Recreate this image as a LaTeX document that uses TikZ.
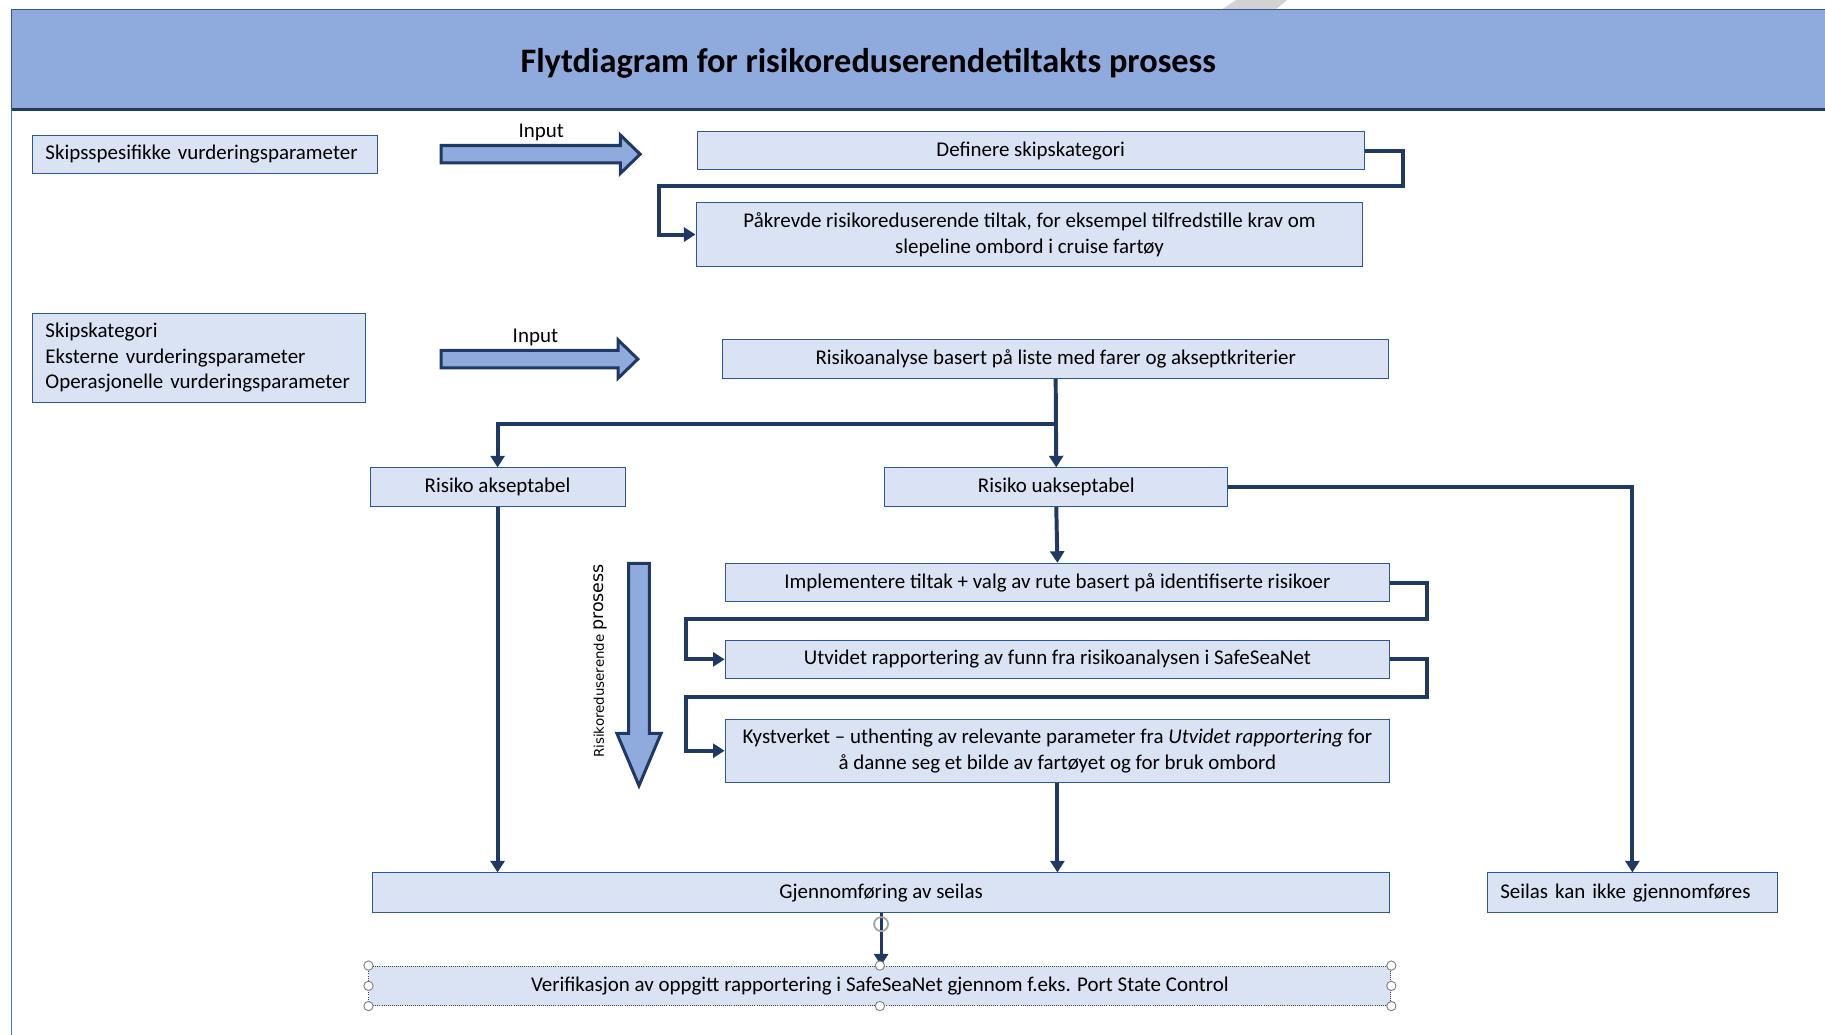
\documentclass[tikz,border=0pt]{standalone}
\usepackage{fontspec}
\setmainfont{Carlito}
\newfontfamily\verd{DejaVu Sans}
\usetikzlibrary{arrows.meta,calc}

\definecolor{boxfill}{HTML}{DAE3F3}
\definecolor{boxline}{HTML}{2F5597}
\definecolor{navy}{HTML}{203864}
\definecolor{headfill}{HTML}{8FAADC}
\definecolor{sideline}{HTML}{4472C4}

\tikzset{
  box/.style={draw=boxline,fill=boxfill,line width=.8pt,inner sep=0pt,
    minimum height=33pt,align=center,font=\fontsize{18}{22}\selectfont},
  lbox/.style={box,align=left},
  conn/.style={draw=navy,line width=3.4pt,-{Triangle[length=10pt,width=12pt]}},
  fat/.style={draw=navy,fill=headfill,line width=2.6pt,line join=miter},
  handle/.style={circle,draw=gray,fill=white,inner sep=0pt,minimum size=8pt,line width=.8pt}
}

\begin{document}
\begin{tikzpicture}[x=1pt,y=-1pt]
\useasboundingbox (0,0) rectangle (1568,889);

% heading band
\fill[gray!35] (1062,0) -- (1106,0) -- (1096,8) -- (1050,8) -- cycle;
\fill[headfill] (10,8) rectangle (1568,94);
\draw[boxline,line width=1.2pt] (1568,8) -- (10,8) -- (10,94);
\draw[navy,line width=3pt] (10,94) -- (1568,94);
\draw[sideline,line width=1.2pt] (10,94) -- (10,889);
\node[font=\fontsize{29.5}{34}\selectfont\bfseries] (title) at (746,54) {Flytdiagram for risikoreduserendetiltakts prosess};

% input side
\node[lbox,minimum width=296pt,text width=274pt] (spec) at (176,132.5) {Skipsspesifikke vurderingsparameter};
\node[lbox,minimum width=286pt,text width=264pt,minimum height=77pt] (param) at (171,307.5)
  {Skipskategori\\Eksterne vurderingsparameter\\Operasjonelle vurderingsparameter};

\draw[fat] (379,125) -- (533,125) -- (533,116) -- (550,132.5) -- (533,149) -- (533,140) -- (379,140) -- cycle;
\node[font=\fontsize{18}{20}\selectfont] (in1) at (465,114) {Input};
\draw[fat] (379,301) -- (531,301) -- (531,292) -- (548,308.5) -- (531,325) -- (531,316) -- (379,316) -- cycle;
\node[font=\fontsize{18}{20}\selectfont] (in2) at (460,290) {Input};

% category and analysis
\node[box,minimum width=573pt] (cat) at (885.5,129.5) {Definere skipskategori};
\node[box,minimum width=573pt,minimum height=55pt] (req) at (884.5,201.5)
  {Påkrevde risikoreduserende tiltak, for eksempel tilfredstille krav om\\slepeline ombord i cruise fartøy};
\node[box,minimum width=572pt] (anal) at (907,308.5) {Risikoanalyse basert på liste med farer og akseptkriterier};
\node[box,minimum width=219pt] (ok) at (427.5,418.5) {Risiko akseptabel};
\node[box,minimum width=295pt] (notok) at (907.5,418.5) {Risiko uakseptabel};

% mitigation steps
\node[box,minimum width=571pt] (impl) at (908.5,500.5) {Implementere tiltak + valg av rute basert på identifiserte risikoer};
\node[box,minimum width=571pt] (rep) at (908.5,566.5) {Utvidet rapportering av funn fra risikoanalysen i SafeSeaNet};
\node[box,minimum width=571pt,minimum height=54pt] (kyst) at (908.5,645)
  {Kystverket -- uthenting av relevante parameter fra \textit{Utvidet rapportering} for\\å danne seg et bilde av fartøyet og for bruk ombord};

\draw[fat] (540,484) -- (558,484) -- (558,630) -- (568,630) -- (549,675) -- (530,630) -- (540,630) -- cycle;
\node[rotate=90,font=\verd] (proc) at (516,568)
  {{\fontsize{11.5}{13}\selectfont Risikoreduserende} {\fontsize{15}{16}\selectfont prosess}};

% outcome
\node[box,minimum width=874pt,minimum height=34pt] (sail) at (757,767) {Gjennomføring av seilas};
\node[lbox,minimum width=249pt,text width=227pt,minimum height=34pt] (nosail) at (1402.5,767) {Seilas kan ikke gjennomføres};
\node[box,draw=darkgray,densely dotted,minimum width=878pt,minimum height=34pt] (verif) at (756,847)
  {Verifikasjon av oppgitt rapportering i SafeSeaNet gjennom f.eks. Port State Control};

% connectors
\draw[conn] (cat.east) -| ++(33,30) -| ([xshift=-31pt]req.west) -- (req.west);
\coordinate (split) at ($(anal.south)+(0,39)$);
\draw[conn] (anal.south) -- (notok.north);
\draw[conn] (split) -| (ok.north);
\draw[conn] (notok.east) -| (nosail.north);
\draw[conn] (ok.south) -- (ok.south |- sail.north);
\draw[conn] (notok.south) -- (impl.north);
\draw[conn] (impl.east) -| ++(32,31) -| ([xshift=-33pt]rep.west) -- (rep.west);
\draw[conn] (rep.east) -| ++(32,32.5) -| ([xshift=-33pt]kyst.west) -- (kyst.west);
\draw[conn] (kyst.south) -- (kyst.south |- sail.north);
\draw[conn,line width=2.5pt] (sail.south) -- (sail.south |- verif.north);

% selection handles
\foreach \a in {north west,north,north east,west,east,south west,south,south east}
  \node[handle] at (verif.\a) {};
\draw[gray!70,line width=1.6pt] (757,794) circle (6pt);
\end{tikzpicture}
\end{document}
